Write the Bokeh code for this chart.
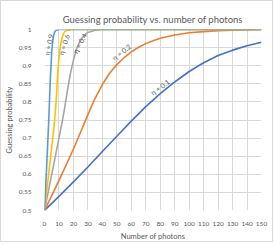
from bokeh.plotting import figure
from bokeh.models import Range1d, FixedTicker, ColumnDataSource
from bokeh.core.properties import value
from bokeh.embed import file_html
from bokeh.resources import INLINE
import math

# ---- data ----
n_09 = [0, 1, 2, 3, 4, 5, 6, 7, 8, 9, 10, 150]
p_09 = [0.5, 0.58, 0.665, 0.755, 0.86, 0.94, 0.978, 0.993, 0.998, 0.999, 1.0, 1.0]

n_06 = [0, 2, 4, 6, 7, 8, 9, 10, 11, 12, 13, 14, 15, 17, 20, 150]
p_06 = [0.5, 0.57, 0.64, 0.71, 0.75, 0.80, 0.87, 0.922, 0.955, 0.975, 0.987, 0.994, 0.997, 0.999, 1.0, 1.0]

n_04 = [0, 5, 10, 12, 14, 16, 18, 20, 22, 24, 26, 28, 30, 35, 40, 150]
p_04 = [0.5, 0.60, 0.70, 0.74, 0.785, 0.835, 0.88, 0.915, 0.945, 0.963, 0.977, 0.986, 0.992, 0.998, 1.0, 1.0]

n_02 = [0, 5, 10, 15, 20, 25, 30, 35, 40, 45, 50, 55, 60, 65, 70, 75, 80, 90, 100, 110, 120, 130, 150]
p_02 = [0.5, 0.541, 0.583, 0.626, 0.67, 0.717, 0.765, 0.81, 0.848, 0.879, 0.903, 0.922, 0.938,
        0.951, 0.961, 0.969, 0.976, 0.985, 0.991, 0.994, 0.997, 0.998, 1.0]

n_01 = [0, 10, 20, 30, 40, 50, 60, 70, 80, 90, 100, 110, 120, 130, 140, 150]
p_01 = [0.5, 0.539, 0.579, 0.62, 0.663, 0.705, 0.747, 0.787, 0.823, 0.855, 0.884, 0.908,
        0.928, 0.943, 0.955, 0.965]

x_ticks = list(range(0, 151, 10))
y_ticks = [0.5, 0.55, 0.6, 0.65, 0.7, 0.75, 0.8, 0.85, 0.9, 0.95, 1.0]
y_tick_labels = {0.5: "0.5", 0.55: "0.55", 0.6: "0.6", 0.65: "0.65", 0.7: "0.7",
                 0.75: "0.75", 0.8: "0.8", 0.85: "0.85", 0.9: "0.9", 0.95: "0.95", 1.0: "1"}

series_labels = ["η = 0.9", "η = 0.6", "η = 0.4", "η = 0.2", "η = 0.1"]

FONT = "Lato"
GREY = "#595959"

p = figure(width=273, height=242, output_backend="svg", toolbar_location=None,
           x_range=Range1d(0, 150), y_range=Range1d(0.5, 1.0),
           title="Guessing probability vs. number of photons",
           min_border_left=39, min_border_right=13, min_border_top=28, min_border_bottom=32)
p.styles = {"border": "1px solid #D9D9D9"}

p.title.align = "center"
p.title.text_font = FONT
p.title.text_font_size = "9.5px"
p.title.text_font_style = "normal"
p.title.text_color = GREY
p.title.offset = 0
p.title.standoff = 10

p.outline_line_color = None
p.background_fill_color = "white"
p.border_fill_color = "white"

p.xaxis.ticker = FixedTicker(ticks=x_ticks)
p.yaxis.ticker = FixedTicker(ticks=y_ticks)
p.yaxis.major_label_overrides = y_tick_labels
for ax in (p.xaxis, p.yaxis):
    ax.axis_line_color = None
    ax.major_tick_line_color = None
    ax.minor_tick_line_color = None
    ax.major_label_text_font = FONT
    ax.major_label_text_font_size = "6.5px"
    ax.major_label_text_color = GREY
    ax.axis_label_text_font = FONT
    ax.axis_label_text_font_size = "7.5px"
    ax.axis_label_text_font_style = "normal"
    ax.axis_label_text_color = GREY
p.xaxis.major_label_standoff = 5
p.xaxis.axis_label_standoff = 3
p.yaxis.major_label_standoff = 7
p.yaxis.axis_label_standoff = 2
p.xaxis.axis_label = "Number of photons"
p.yaxis.axis_label = "Guessing probability"

p.xgrid.ticker = FixedTicker(ticks=x_ticks)
p.ygrid.ticker = FixedTicker(ticks=y_ticks)
p.grid.grid_line_color = "#D9D9D9"
p.grid.grid_line_width = 1

colors = ["#5B9BD5", "#FFC000", "#A5A5A5", "#ED7D31", "#4472C4"]
for xs, ys, c in [(n_01, p_01, colors[4]), (n_02, p_02, colors[3]), (n_04, p_04, colors[2]),
                  (n_06, p_06, colors[1]), (n_09, p_09, colors[0])]:
    p.line(xs, ys, line_color=c, line_width=1.6, line_join="round")

# curve labels (annotation positions, in data units) and rotation angles
lab_x = [2.9, 13.4, 24.3, 53.2, 79.8]
lab_y = [0.958, 0.958, 0.962, 0.938, 0.841]
lab_ang = [78, 72, 62, 38, 36]
src = ColumnDataSource(dict(x=lab_x, y=lab_y, t=series_labels,
                            a=[math.radians(a) for a in lab_ang]))
p.text(x="x", y="y", text="t", angle="a", source=src, text_font=value(FONT),
       text_font_size="7px", text_color=GREY, text_align="center",
       text_baseline="middle")

open("out.html", "w").write(file_html(p, INLINE))
